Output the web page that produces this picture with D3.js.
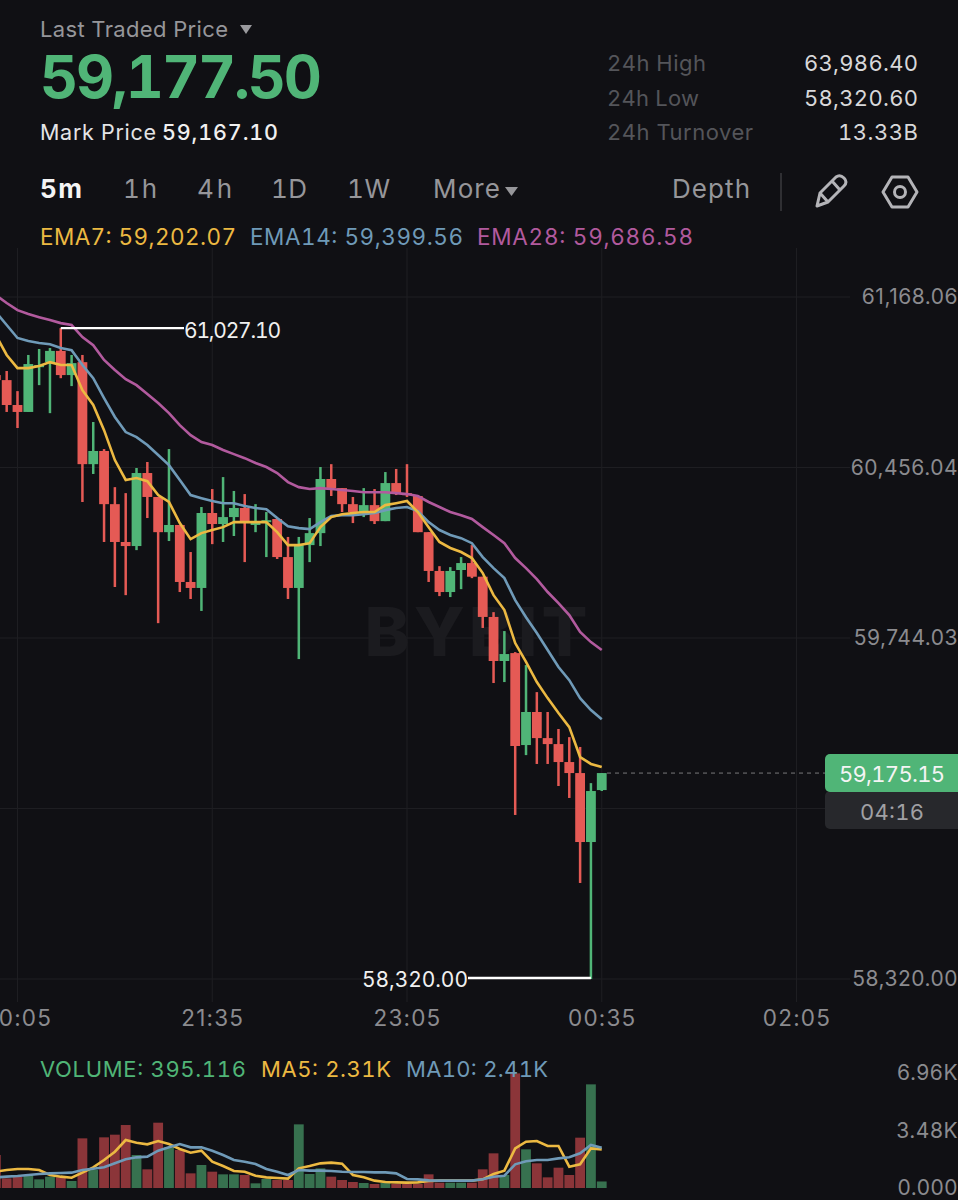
<!DOCTYPE html>
<html>
<head>
<meta charset="utf-8">
<script src="https://cdn.jsdelivr.net/npm/d3@7/dist/d3.min.js"></script>
<style>
html,body{margin:0;padding:0;background:#101014;}
svg{display:block;}
text{font-family:Inter,"Noto Sans",sans-serif;font-variant-numeric:tabular-nums;}
</style>
</head>
<body>
<script>
//Candles, oldest first, one every 5 minutes
var opens = [60842,60821,60717,60688,60875,60896,60943,60842,60896,60470,60525,60303,60145,60128,60433,60333,60186,60216,59978,59953,60266,60220,60249,60287,60216,60232,60241,60082,59953,60132,60182,60408,60370,60303,60270,60299,60232,60391,60349,60337,60186,60024,59936,60028,60057,60000,59832,59648,59681,59297,59435,59326,59301,59226,59180,58892,59109];
var highs = [60842,60859,60775,60926,60951,60955,61038,60926,60926,60646,60533,60374,60349,60454,60479,60333,60533,60216,60103,60291,60366,60416,60358,60345,60303,60270,60245,60166,60166,60245,60458,60470,60370,60333,60370,60366,60437,60450,60470,60341,60186,60044,60040,60082,60132,60000,59852,59773,59685,59631,59518,59435,59364,59330,59289,59138,59180];
var lows = [60821,60688,60621,60688,60800,60683,60829,60796,60312,60429,60145,59957,59923,60111,60245,59806,60149,59936,59907,59857,60136,60145,60170,60061,60186,60082,60074,59907,59656,60061,60128,60337,60270,60224,60249,60220,60232,60341,60333,60186,59978,59919,59915,59948,59994,59786,59556,59560,59005,59255,59218,59218,59126,59076,58721,58320,59105];
var closes = [60821,60717,60688,60888,60884,60943,60842,60892,60470,60525,60303,60145,60128,60433,60333,60186,60216,59978,59953,60266,60220,60249,60287,60232,60232,60236,60082,59953,60132,60182,60408,60370,60303,60270,60299,60232,60391,60349,60341,60186,60024,59936,60024,60057,60000,59832,59648,59677,59293,59435,59326,59301,59226,59180,58892,59105,59180];

//Moving averages drawn over the candles
var ema7 = [61009,60926,60871,60871,60880,60896,60884,60884,60779,60717,60612,60487,60404,60412,60399,60341,60312,60224,60157,60182,60195,60207,60228,60228,60228,60228,60186,60132,60132,60140,60207,60249,60261,60266,60270,60270,60299,60307,60316,60270,60207,60145,60120,60103,60078,60015,59923,59861,59723,59644,59560,59493,59431,59372,59247,59218,59205];
var ema14 = [61105,61051,60997,60984,60976,60971,60955,60946,60884,60829,60746,60667,60604,60583,60550,60508,60466,60404,60341,60328,60316,60307,60307,60295,60287,60282,60245,60211,60203,60199,60228,60253,60257,60257,60261,60266,60278,60287,60291,60274,60228,60195,60174,60161,60140,60082,60036,59994,59902,59831,59765,59694,59623,59568,59493,59443,59405];
var ema28 = [61176,61143,61113,61097,61084,61072,61059,61051,61001,60967,60905,60863,60825,60800,60763,60725,60683,60633,60591,60562,60550,60529,60512,60495,60475,60458,60433,60395,60374,60366,60370,60366,60362,60358,60353,60353,60353,60349,60345,60337,60312,60291,60270,60257,60241,60207,60174,60140,60078,60036,59990,59936,59890,59840,59769,59727,59694];

//Volume panel
var volumes = [1997,585,686,787,524,686,645,424,3005,1089,3066,3227,3812,1997,1130,3953,2461,2299,887,1392,988,827,827,787,282,545,484,484,3852,847,1190,686,484,363,303,242,303,242,242,242,827,323,323,323,323,1130,2098,787,6938,2340,1493,645,1230,787,3046,6273,395];
var ma5 = [988,1089,1150,1150,1089,787,686,625,928,1251,1694,2199,2904,2743,2642,2844,2662,2360,2138,2259,1593,1331,1029,988,746,645,605,565,1190,1331,1493,1533,1472,787,645,444,363,343,323,343,424,444,444,444,444,524,847,1049,2400,2804,2844,2541,2541,1291,1432,2400,2340];
var ma10 = [645,686,726,787,847,887,908,928,1089,1170,1251,1493,1735,1856,1896,2259,2461,2662,2461,2461,2259,1997,1694,1593,1452,1150,988,787,1089,1049,1049,1029,988,968,968,948,948,887,545,524,464,444,444,444,444,524,686,746,1432,1614,1694,1694,1795,1856,2098,2602,2441];

//Axis ticks, 59,032.01 has a grid line but its label sits behind the countdown tag
var priceGrid = [61168.06,60456.04,59744.03,59032.01,58320.00];
var priceTicks = [61168.06,60456.04,59744.03,58320.00];
var timeTicks = ['20:05','21:35','23:05','00:35','02:05'];
var volumeTicks = [6960,3480,0];

//Header texts
var statLabels = ['24h High','24h Low','24h Turnover'];
var statValues = ['63,986.40','58,320.60','13.33B'];
var intervals = ['5m','1h','4h','1D','1W','More'];

var green = '#50b577',
    red = '#e55a55',
    yellow = '#ecb942',
    blue = '#6f9ab8',
    pink = '#b25a9e',
    gridColor = '#1e1e22',
    axisText = '#8b8b8f';

function setChart(){
    var width = 958,
        height = 1200;

    var svg = d3.select('body')
        .append('svg')
        .attr('width',width)
        .attr('height',height)
        .style('background','#101014');

    //Candle times, the last one is 00:35
    var parseTime = d3.utcParse('%Y-%m-%d %H:%M');
    var lastTime = parseTime('2024-01-02 00:35');
    var times = opens.map(function(d,i){
        return d3.utcMinute.offset(lastTime,(i - opens.length + 1) * 5);
    });
    var tickTimes = timeTicks.map(function(d,i){
        return d3.utcMinute.offset(lastTime,(i - 3) * 90);
    });

    var x = d3.scaleUtc()
        .domain([tickTimes[0],tickTimes[4]])
        .range([17.5,796.5]);
    var y = d3.scaleLinear()
        .domain([58320,61168.06])
        .range([979,297]);
    var yVol = d3.scaleLinear()
        .domain([0,6960])
        .range([1188,1073]);

    //Grid lines
    svg.append('g').selectAll('line')
        .data(priceGrid)
        .enter()
        .append('line')
        .attr('x1',0)
        .attr('x2',850)
        .attr('y1',function(d){return y(d);})
        .attr('y2',function(d){return y(d);})
        .attr('stroke',gridColor);
    svg.append('g').selectAll('line')
        .data(tickTimes)
        .enter()
        .append('line')
        .attr('x1',function(d){return x(d);})
        .attr('x2',function(d){return x(d);})
        .attr('y1',248)
        .attr('y2',1002)
        .attr('stroke',gridColor);

    //Watermark
    svg.append('text')
        .attr('x',478)
        .attr('y',656)
        .attr('text-anchor','middle')
        .attr('font-size',68)
        .attr('font-weight',800)
        .attr('letter-spacing',4)
        .attr('fill','#1b1b1f')
        .text('BYBIT');

    //Candle wicks and bodies
    var candles = svg.append('g').selectAll('g')
        .data(times)
        .enter()
        .append('g')
        .attr('fill',function(d,i){return closes[i] >= opens[i] ? green : red;});
    candles.append('rect')
        .attr('x',function(d){return x(d) - 1.25;})
        .attr('width',2.5)
        .attr('y',function(d,i){return y(highs[i]);})
        .attr('height',function(d,i){return y(lows[i]) - y(highs[i]);});
    candles.append('rect')
        .attr('x',function(d){return x(d) - 4.9;})
        .attr('width',9.8)
        .attr('y',function(d,i){return y(Math.max(opens[i],closes[i]));})
        .attr('height',function(d,i){return Math.max(Math.abs(y(opens[i]) - y(closes[i])),2);});

    //EMA lines
    var priceLine = d3.line()
        .x(function(d,i){return x(times[i]);})
        .y(function(d){return y(d);});
    [[ema28,pink],[ema14,blue],[ema7,yellow]].forEach(function(s){
        svg.append('path')
            .attr('d',priceLine(s[0]))
            .attr('fill','none')
            .attr('stroke',s[1])
            .attr('stroke-width',2.6);
    });

    //High and low markers
    var hiIndex = d3.maxIndex(highs),
        loIndex = d3.minIndex(lows);
    svg.append('line')
        .attr('x1',x(times[hiIndex]))
        .attr('x2',184)
        .attr('y1',y(highs[hiIndex]))
        .attr('y2',y(highs[hiIndex]))
        .attr('stroke','#fff')
        .attr('stroke-width',2.4);
    svg.append('line')
        .attr('x1',468)
        .attr('x2',x(times[loIndex]))
        .attr('y1',y(lows[loIndex]) - 1)
        .attr('y2',y(lows[loIndex]) - 1)
        .attr('stroke','#fff')
        .attr('stroke-width',2.4);
    addText(184,338,'61,027.10',21,'#f0f0f0','start',400,97);
    addText(468,987,'58,320.00',21,'#f0f0f0','end',400,106);

    //Price axis
    var priceAxis = d3.axisLeft(y)
        .tickValues(priceTicks)
        .tickFormat(d3.format(',.2f'))
        .tickSize(0);
    svg.append('g')
        .attr('transform','translate(958,0)')
        .call(priceAxis)
        .call(styleAxis)
        .selectAll('text')
        .attr('x',0)
        .attr('dy','0.32em')
        .attr('letter-spacing',0.5);

    //Time axis
    var timeAxis = d3.axisBottom(x)
        .tickValues(tickTimes)
        .tickFormat(d3.utcFormat('%H:%M'))
        .tickSize(0);
    svg.append('g')
        .attr('transform','translate(0,1007)')
        .call(timeAxis)
        .call(styleAxis)
        .selectAll('text')
        .attr('font-size',22.5)
        .attr('letter-spacing',1.2);

    //Last price tags
    svg.append('line')
        .attr('x1',607)
        .attr('x2',825)
        .attr('y1',y(59180))
        .attr('y2',y(59180))
        .attr('stroke','#77777b')
        .attr('stroke-dasharray','4 4');
    svg.append('rect')
        .attr('x',825)
        .attr('y',791)
        .attr('width',150)
        .attr('height',38)
        .attr('rx',5)
        .attr('fill','#27282c');
    svg.append('rect')
        .attr('x',825)
        .attr('y',754)
        .attr('width',150)
        .attr('height',38)
        .attr('rx',5)
        .attr('fill',green);
    addText(892,782,'59,175.15',22,'#f4f4f4','middle',400,106);
    addText(892,820,'04:16',22,'#a0a0a4','middle',400,64);

    //Volume bars
    svg.append('g').selectAll('rect')
        .data(volumes)
        .enter()
        .append('rect')
        .attr('x',function(d,i){return x(times[i]) - 4.9;})
        .attr('width',9.8)
        .attr('y',function(d){return yVol(d);})
        .attr('height',function(d){return yVol(0) - yVol(d);})
        .attr('fill',function(d,i){return closes[i] >= opens[i] ? '#37714f' : '#8b3539';});
    var volumeLine = d3.line()
        .x(function(d,i){return x(times[i]);})
        .y(function(d){return yVol(d);});
    [[ma5,yellow],[ma10,blue]].forEach(function(s){
        svg.append('path')
            .attr('d',volumeLine(s[0]))
            .attr('fill','none')
            .attr('stroke',s[1])
            .attr('stroke-width',2.6);
    });

    //Volume axis
    var volumeAxis = d3.axisLeft(yVol)
        .tickValues(volumeTicks)
        .tickFormat(function(d){return d === 0 ? '0.000' : d3.format('.2f')(d / 1000) + 'K';})
        .tickSize(0);
    svg.append('g')
        .attr('transform','translate(958,0)')
        .call(volumeAxis)
        .call(styleAxis)
        .selectAll('text')
        .attr('x',0)
        .attr('dy','0.32em')
        .attr('letter-spacing',0.5);

    //Header
    addText(40,37,'Last Traded Price',22,'#96969a','start',400,188);
    triangle(240,25,252,'#9a9a9e');
    addText(40,98,'59,177.50',59,green,'start',700,282);
    addText(40,140,'Mark Price',21.5,'#e4e4e6','start',400,116);
    addText(162,140,'59,167.10',21.5,'#f0f0f0','start',500,116);

    var statWidths = [99,92,146],
        valueWidths = [114,114,80];
    statLabels.forEach(function(d,i){
        addText(607,71 + i * 34.5,d,22,'#54555a','start',400,statWidths[i]);
        addText(918,71 + i * 34.5,statValues[i],22,'#d8d8da','end',400,valueWidths[i]);
    });

    //Interval tabs
    var tabX = [40,123,197,271,347,433],
        tabWidths = [42,34,35,36,43,67];
    intervals.forEach(function(d,i){
        addText(tabX[i],198,d,26,i === 0 ? '#f4f4f4' : '#96969a','start',i === 0 ? 700 : 400,tabWidths[i]);
    });
    triangle(505,187,518,'#96969a');
    addText(672,198,'Depth',26,'#96969a','start',400,78);
    svg.append('line')
        .attr('x1',781)
        .attr('x2',781)
        .attr('y1',173)
        .attr('y2',211)
        .attr('stroke','#3a3a3e')
        .attr('stroke-width',1.5);

    //Pencil icon
    svg.append('path')
        .attr('d','M817 206 L820 193 L836 177 Q840 174 844 178 Q848 182 844 186 L828 202 Z M820 193 L828 202 M832 181 L840 190')
        .attr('fill','none')
        .attr('stroke','#b4b4b8')
        .attr('stroke-width',3)
        .attr('stroke-linejoin','round');
    //Settings icon
    svg.append('path')
        .attr('d','M892 177 L908 177 L917 192 L908 207 L892 207 L883 192 Z')
        .attr('fill','none')
        .attr('stroke','#b4b4b8')
        .attr('stroke-width',3)
        .attr('stroke-linejoin','round');
    svg.append('circle')
        .attr('cx',900)
        .attr('cy',192)
        .attr('r',5.5)
        .attr('fill','none')
        .attr('stroke','#b4b4b8')
        .attr('stroke-width',3);

    //Legends
    addText(40,245,'EMA7: 59,202.07',22.5,yellow,'start',400,196);
    addText(250,245,'EMA14: 59,399.56',22.5,blue,'start',400,213);
    addText(477,245,'EMA28: 59,686.58',22.5,pink,'start',400,216);
    addText(40,1077,'VOLUME: 395.116',22,green,'start',400,206);
    addText(261,1077,'MA5: 2.31K',22,yellow,'start',400,130);
    addText(406,1077,'MA10: 2.41K',22,blue,'start',400,142);

    function addText(px,py,str,size,color,anchor,weight,len){
        return svg.append('text')
            .attr('x',px)
            .attr('y',py)
            .attr('font-size',size)
            .attr('fill',color)
            .attr('text-anchor',anchor || 'start')
            .attr('font-weight',weight || 400)
            .attr('textLength',len)
            .text(str);
    }

    function triangle(x1,top,x2,color){
        svg.append('path')
            .attr('d','M' + x1 + ' ' + top + ' L' + x2 + ' ' + top + ' L' + ((x1 + x2) / 2) + ' ' + (top + 9) + ' Z')
            .attr('fill',color);
    }

    function styleAxis(g){
        g.select('.domain').remove();
        g.selectAll('text')
            .attr('font-size',21)
            .attr('font-family','Inter,"Noto Sans",sans-serif')
            .style('font-variant-numeric','normal')
            .attr('fill',axisText);
    }
}

window.onload = setChart;
</script>
</body>
</html>
